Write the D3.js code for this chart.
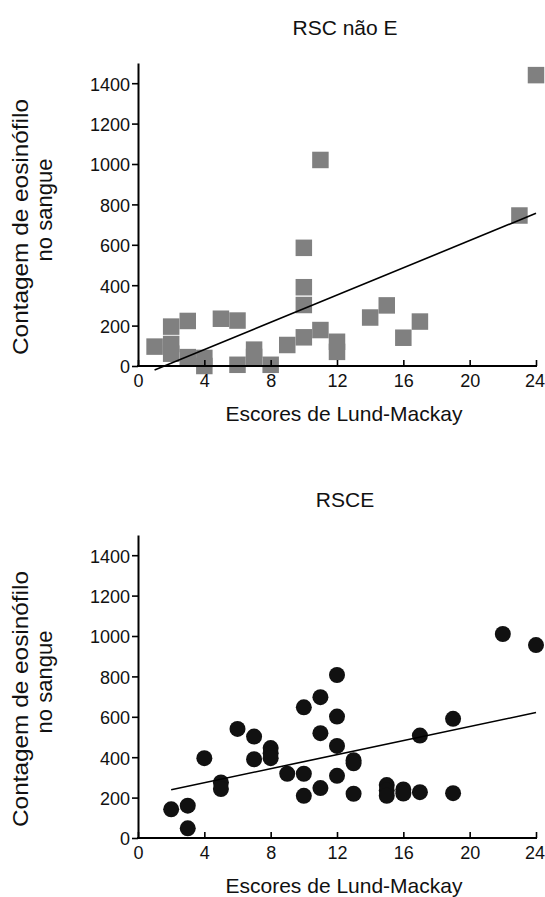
<!DOCTYPE html>
<html>
<head>
<meta charset="utf-8">
<script src="https://cdn.jsdelivr.net/npm/d3@7"></script>
<style>
  body { margin: 0; background: #fff; }
  text { font-family: "Liberation Sans", Arial, Helvetica, sans-serif; fill: #111; }
</style>
</head>
<body>
<svg width="545" height="897"></svg>
<script>
"use strict";

// RSC nao E (squares)
var topX = [1, 2, 2, 2, 3, 3, 4, 4, 5, 6, 6, 7, 7, 8, 9, 10, 10, 10, 10, 11, 11, 12, 12, 14, 15, 16, 17, 23, 24];
var topY = [96, 195, 109, 61, 223, 44, 40, 0, 234, 225, 6, 81, 45, 6, 104, 585, 390, 302, 142, 1020, 178, 120, 70, 240, 300, 140, 220, 745, 1440];
var topFit = [[1, -20], [24, 756]];

// RSCE (circles)
var botX = [2, 3, 3, 4, 5, 5, 6, 7, 7, 8, 8, 8, 9, 10, 10, 10, 11, 11, 11, 12, 12, 12, 12, 13, 13, 13, 15, 15, 15, 16, 16, 17, 17, 19, 19, 22, 24];
var botY = [142, 160, 48, 395, 275, 242, 540, 502, 390, 445, 420, 395, 318, 647, 318, 209, 697, 519, 247, 807, 601, 456, 308, 385, 370, 219, 262, 235, 209, 240, 220, 507, 227, 590, 222, 1010, 955];
var botFit = [[2, 239], [24, 621]];

var xTicks = [0, 4, 8, 12, 16, 20, 24];
var yTicks = [0, 200, 400, 600, 800, 1000, 1200, 1400];

var yLabel1 = "Contagem de eosinófilo";
var yLabel2 = "no sangue";
var xLabel = "Escores de Lund-Mackay";

window.onload = renderMyChart;

function renderMyChart() {
    var svg = d3.select("svg");

    drawPanel(svg, {
        title: "RSC não E", xs: topX, ys: topY, fit: topFit,
        top: 63, bottom: 366, shape: "square"
    });
    drawPanel(svg, {
        title: "RSCE", xs: botX, ys: botY, fit: botFit,
        top: 535, bottom: 838, shape: "circle"
    });
}

function drawPanel(svg, o) {
    var left = 138, right = 536;
    var x = d3.scaleLinear().domain([0, 24]).range([left, right]),
        y = d3.scaleLinear().domain([0, 1500]).range([o.bottom, o.top]);

    var g = svg.append("g");

    var pts = o.xs.map(function (d, i) { return { x: d, y: o.ys[i] }; });

    if (o.shape === "square") {
        var s = 16.5;
        g.selectAll(".pt")
            .data(pts)
            .enter().append("rect")
            .attr("class", "pt")
            .attr("x", function (d) { return x(d.x) - s / 2; })
            .attr("y", function (d) { return y(d.y) - s / 2; })
            .attr("width", s)
            .attr("height", s)
            .attr("fill", "#808080");
    } else {
        g.selectAll(".pt")
            .data(pts)
            .enter().append("circle")
            .attr("class", "pt")
            .attr("cx", function (d) { return x(d.x); })
            .attr("cy", function (d) { return y(d.y); })
            .attr("r", 8)
            .attr("fill", "#111");
    }

    // regression line
    g.append("line")
        .attr("x1", x(o.fit[0][0])).attr("y1", y(o.fit[0][1]))
        .attr("x2", x(o.fit[1][0])).attr("y2", y(o.fit[1][1]))
        .attr("stroke", "#000")
        .attr("stroke-width", 1.6);

    // x axis, ticks pointing up
    var ax = g.append("g")
        .attr("transform", "translate(0," + o.bottom + ")")
        .call(d3.axisBottom(x).tickValues(xTicks).tickSizeInner(-6).tickSizeOuter(0).tickPadding(13));
    ax.select(".domain").attr("stroke-width", 2).attr("d", "M" + (left - 1) + ",0H" + (right + 1));
    ax.selectAll(".tick line").attr("stroke-width", 1.6);
    ax.selectAll(".tick text").attr("font-size", 18).attr("font-family", null).attr("dy", "0.71em")
        .attr("y", 8);
    // keep the last label inside the frame
    ax.selectAll(".tick text").filter(function (d) { return d === 24; }).attr("dx", -1.5);

    // y axis
    var ay = g.append("g")
        .attr("transform", "translate(" + left + ",0)")
        .call(d3.axisLeft(y).tickValues(yTicks).tickFormat(d3.format("d")).tickSize(6).tickSizeOuter(0).tickPadding(2));
    ay.select(".domain").attr("stroke-width", 2);
    ay.selectAll(".tick line").attr("stroke-width", 1.6);
    ay.selectAll(".tick text").attr("font-size", 18).attr("font-family", null).attr("dy", "0.38em");
    svg.selectAll(".tick text").attr("fill", "#111");

    // titles and labels
    svg.append("text")
        .attr("x", 345).attr("y", o.top - 28)
        .attr("text-anchor", "middle")
        .attr("font-size", 21)
        .text(o.title);

    svg.append("text")
        .attr("x", 344).attr("y", o.bottom + 55)
        .attr("text-anchor", "middle")
        .attr("font-size", 21)
        .text(xLabel);

    var cy = o.bottom - 139;
    svg.append("text")
        .attr("transform", "translate(28," + cy + ") rotate(-90)")
        .attr("text-anchor", "middle")
        .attr("font-size", 22)
        .attr("textLength", 256)
        .attr("lengthAdjust", "spacingAndGlyphs")
        .text(yLabel1);
    svg.append("text")
        .attr("transform", "translate(51.5," + (cy - 17) + ") rotate(-90)")
        .attr("text-anchor", "middle")
        .attr("font-size", 22)
        .text(yLabel2);
}
</script>
</body>
</html>
